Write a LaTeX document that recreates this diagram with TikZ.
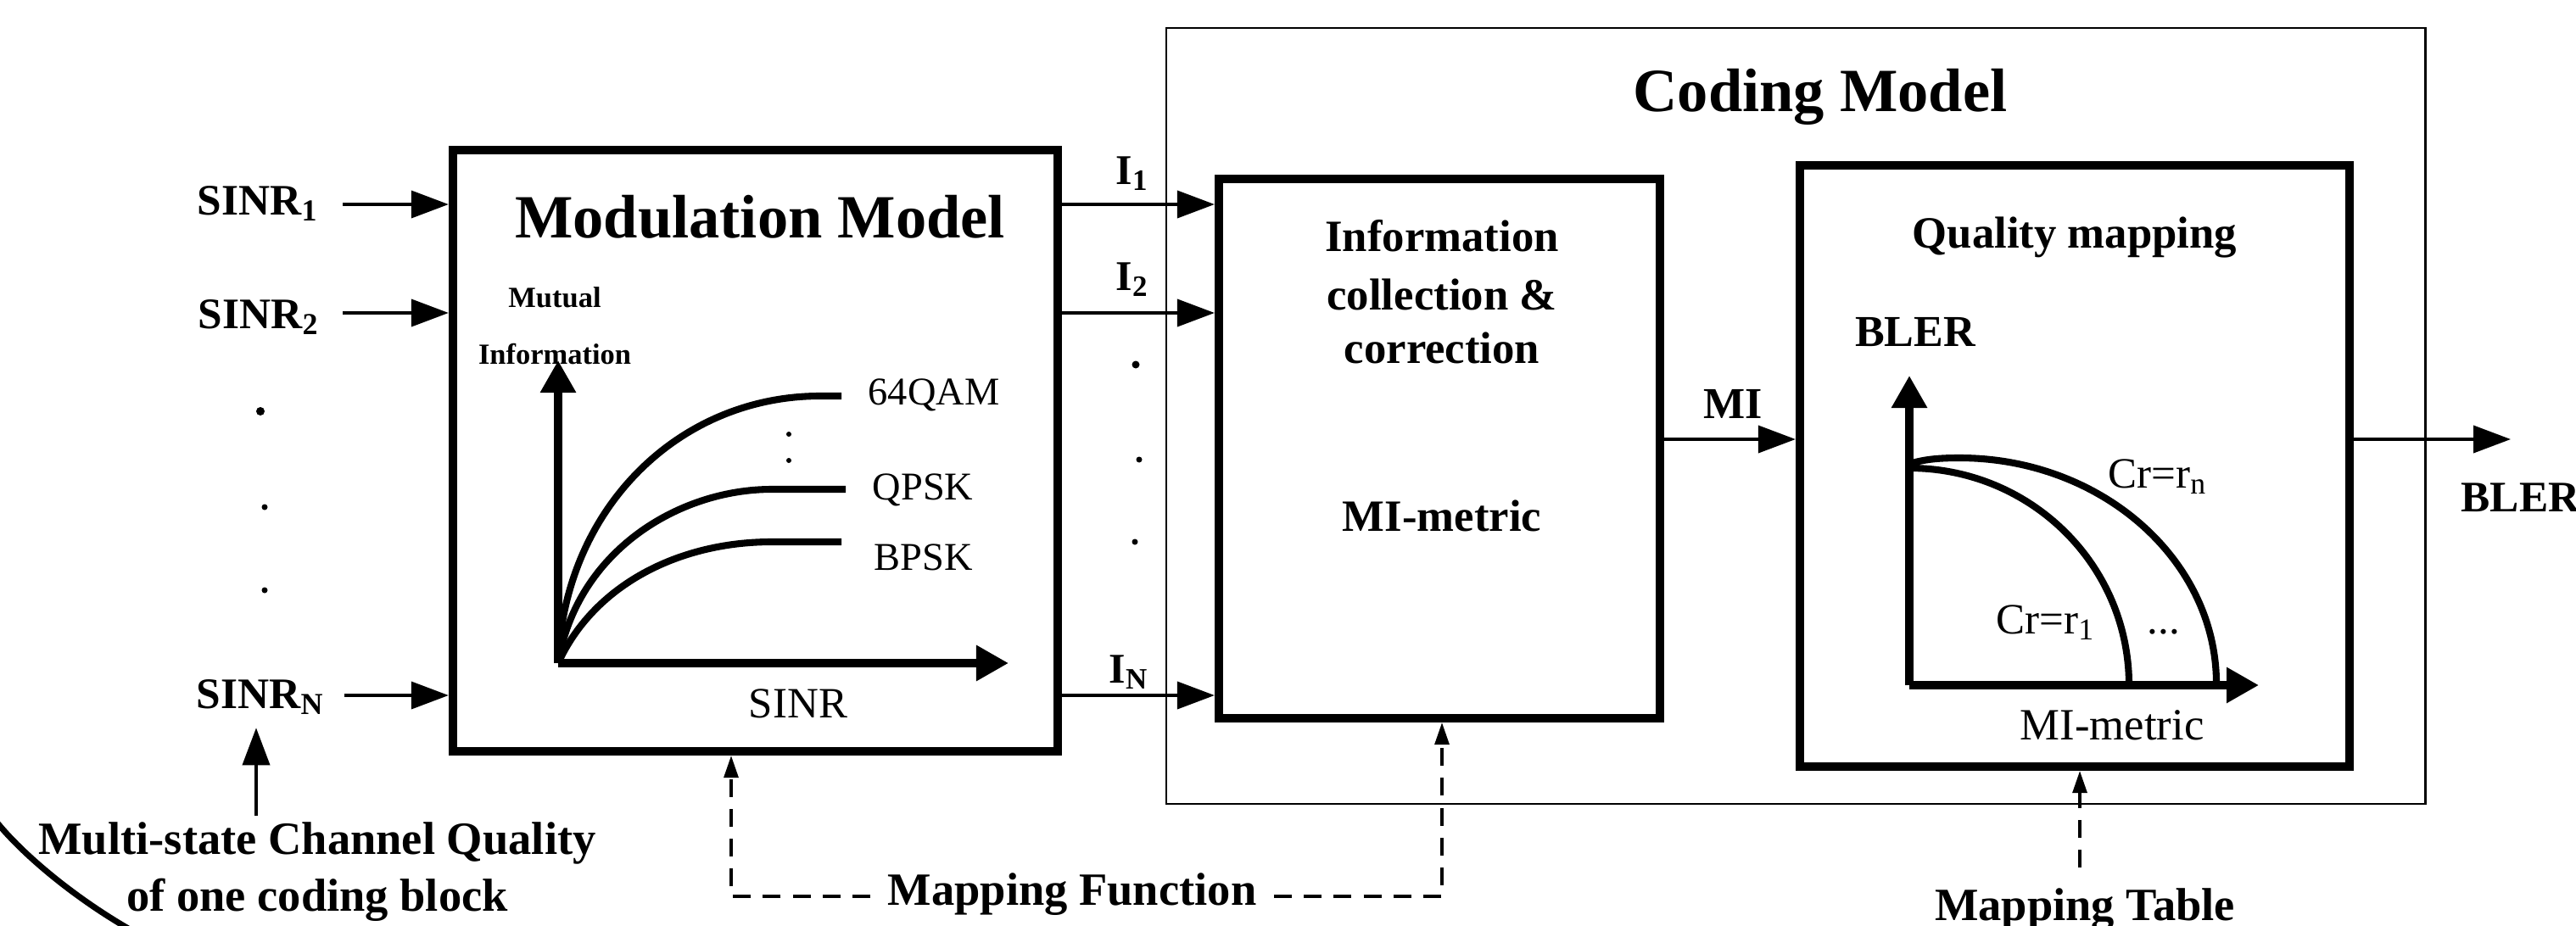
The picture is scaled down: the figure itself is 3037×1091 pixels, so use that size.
\documentclass[tikz,border=0pt]{standalone}
\usepackage{fontspec}
\setmainfont{Liberation Serif}
\usetikzlibrary{arrows.meta}

\tikzset{
  blockbox/.style={draw, line width=2.8pt, inner sep=0pt},
  thinbox/.style={draw, line width=0.6pt, inner sep=0pt},
  feed/.style={line width=1.1pt, -{Triangle[length=0.44cm,width=0.32cm]}},
  axis/.style={line width=2.6pt, -{Triangle[length=0.38cm,width=0.4cm]}},
  curve/.style={line width=2.3pt},
  hint/.style={line width=0.9pt, dash pattern=on 6pt off 4pt, -{Triangle[length=0.26cm,width=0.17cm]}},
  txt/.style={inner sep=0pt, anchor=base},
  boldtxt/.style={txt, font=\fontsize{#1}{#1}\selectfont\bfseries},
  plaintxt/.style={txt, font=\fontsize{#1}{#1}\selectfont},
}

\begin{document}
\begin{tikzpicture}[x=0.01cm, y=-0.01cm]
  \useasboundingbox (0,0) rectangle (3037,1091);
  \clip (0,0) rectangle (3037,1091);

  \node[thinbox, minimum width=14.84cm, minimum height=9.15cm] (cod) at (2117,490.5) {};
  \node[blockbox, minimum width=7.13cm, minimum height=7.09cm] (mod) at (890.5,531.5) {};
  \node[blockbox, minimum width=5.2cm, minimum height=6.36cm] (info) at (1697,529) {};
  \node[blockbox, minimum width=6.48cm, minimum height=7.09cm] (qual) at (2446,549.5) {};

  \node[boldtxt=20.6] (modtitle) at (896,281) {Modulation Model};
  \node[boldtxt=20.6] (codtitle) at (2146,132) {Coding Model};

  % inputs
  \node[boldtxt=14.6, anchor=base east] (sinr1) at (376,253) {SINR\textsubscript{1}};
  \node[boldtxt=14.6, anchor=base east] (sinr2) at (377,387) {SINR\textsubscript{2}};
  \node[boldtxt=14.6, anchor=base east] (sinrN) at (383,835) {SINR\textsubscript{N}};
  \coordinate (s1) at (404,241);
  \coordinate (s2) at (404,369);
  \coordinate (sN) at (406,820);
  \draw[feed] (s1) -- (s1 -| mod.west);
  \draw[feed] (s2) -- (s2 -| mod.west);
  \draw[feed] (sN) -- (sN -| mod.west);
  \fill (307,485) circle[radius=0.05cm];
  \fill (312,598) circle[radius=0.035cm];
  \fill (312,696) circle[radius=0.035cm];

  \node[boldtxt=15.5] (cq) at (374,1007) {Multi-state Channel Quality};
  \node[boldtxt=15.5] (cqb) at (374,1074) {of one coding block};
  \coordinate (cqtop) at (302,962);
  \draw[feed, shorten >=0.15cm] (cqtop) -- (cqtop |- sinrN.south);

  % modulation chart
  \node[boldtxt=9.8] (mutual) at (654,362) {Mutual};
  \node[boldtxt=9.8] (mutinfo) at (654,429) {Information};
  \coordinate (o1) at (658,782);
  \coordinate (o1y) at (658,425);
  \coordinate (o1x) at (1189,782);
  \draw[axis] (o1) -- (o1y);
  \draw[axis] (o1) -- (o1x);
  \draw[curve] (o1) .. controls (665,600) and (800,467) .. (967,467) -- (992,467);
  \draw[curve] (o1) .. controls (680,650) and (800,577) .. (910,577) -- (997,577);
  \draw[curve] (o1) .. controls (700,690) and (800,639) .. (910,639) -- (992,639);
  \fill (930,512) circle[radius=0.03cm];
  \fill (930,543) circle[radius=0.03cm];
  \node[plaintxt=13.2] (qam) at (1101,477) {64QAM};
  \node[plaintxt=13.2] (qpsk) at (1088,589) {QPSK};
  \node[plaintxt=13.2] (bpsk) at (1089,672) {BPSK};
  \node[plaintxt=14.5] (sinrax) at (941,846) {SINR};

  % mutual information lines
  \node[boldtxt=14.2, anchor=base west] (i1) at (1315,217) {I\textsubscript{1}};
  \node[boldtxt=14.2, anchor=base west] (i2) at (1315,342) {I\textsubscript{2}};
  \node[boldtxt=14.2, anchor=base west] (iN) at (1307,805) {I\textsubscript{N}};
  \draw[feed] (s1 -| mod.east) -- (s1 -| info.west);
  \draw[feed] (s2 -| mod.east) -- (s2 -| info.west);
  \draw[feed] (sN -| mod.east) -- (sN -| info.west);
  \fill (1339,430) circle[radius=0.045cm];
  \fill (1343,542) circle[radius=0.035cm];
  \fill (1338,639) circle[radius=0.035cm];

  % information collection
  \node[boldtxt=15] (ic1) at (1700,296) {Information};
  \node[boldtxt=15] (ic2) at (1700,365) {collection \&};
  \node[boldtxt=15] (ic3) at (1700,428) {correction};
  \node[boldtxt=15] (icm) at (1700,626) {MI-metric};

  \coordinate (ym) at (2040,518);
  \draw[feed] (ym -| info.east) -- (ym -| qual.west);
  \node[boldtxt=14.8] (mi) at (2043,493) {MI};

  % quality mapping chart
  \node[boldtxt=15] (qm) at (2446,292) {Quality mapping};
  \node[boldtxt=14.8] (bler) at (2258,408) {BLER};
  \coordinate (o2) at (2251,808);
  \coordinate (o2y) at (2251,443);
  \coordinate (o2x) at (2663,808);
  \draw[axis] (o2) -- (o2y);
  \draw[axis] (o2) -- (o2x);
  \draw[curve] (2251,552) .. controls (2394,552) and (2510,666) .. (2510,808);
  \draw[curve] (2251,547) .. controls (2270,541) and (2290,540) .. (2310,540)
    .. controls (2477,540) and (2613,660) .. (2613,806);
  \node[plaintxt=14.5, anchor=base west] (crn) at (2485,575) {Cr=r\textsubscript{n}};
  \node[plaintxt=14.5, anchor=base west] (cr1) at (2353,747) {Cr=r\textsubscript{1}};
  \node[plaintxt=14.5, anchor=base west] (crd) at (2531,747) {...};
  \node[plaintxt=15] (qmx) at (2490,872) {MI-metric};

  % output
  \coordinate (bout) at (2960,518);
  \draw[feed] (ym -| qual.east) -- (bout);
  \node[boldtxt=14.6, anchor=base west] (blerout) at (2901,603) {BLER};

  % mapping hints
  \node[boldtxt=15.5] (mf) at (1264,1067) {Mapping Function};
  \coordinate (mfl) at (862,1057);
  \coordinate (mfr) at (1700,1057);
  \draw[hint, shorten <=0.2cm] (mf.west |- mfl) -| (mod.south -| mfl);
  \draw[hint, shorten <=0.2cm] (mf.east |- mfr) -| (info.south -| mfr);
  \node[boldtxt=15.5] (mt) at (2458,1085) {Mapping Table};
  \coordinate (mtc) at (2452,1023);
  \draw[hint] (mtc) -- (qual.south -| mtc);

  \draw[line width=2pt] (-5,968) .. controls (20,1000) and (80,1055) .. (160,1100);
\end{tikzpicture}
\end{document}
